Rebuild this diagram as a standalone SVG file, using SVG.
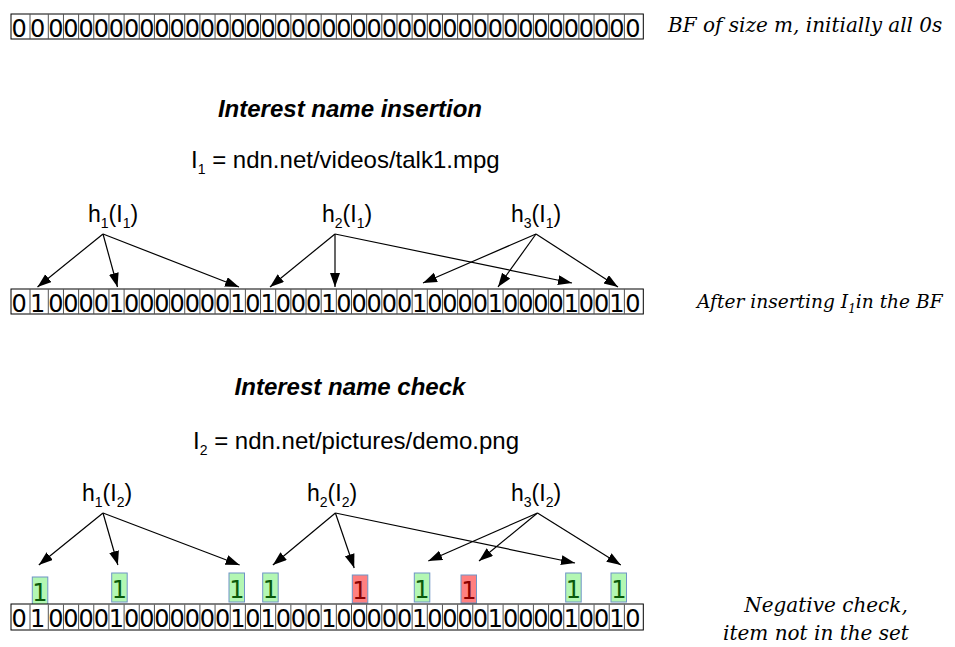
<svg xmlns="http://www.w3.org/2000/svg" width="955" height="647" viewBox="0 0 955 647">
<style>
.cell{fill:#fff;stroke:#000;stroke-width:1}
.sep{stroke:#555;stroke-width:1;fill:none}
.bit{font-family:"DejaVu Sans",sans-serif;font-size:24px;text-anchor:middle;fill:#000}
.title{font-family:"Liberation Sans",sans-serif;font-weight:bold;font-style:italic;font-size:24px;text-anchor:middle}
.name{font-family:"Liberation Sans",sans-serif;font-size:24px}
.hl{font-family:"Liberation Sans",sans-serif;font-size:23px}
.note{font-family:"DejaVu Serif",serif;font-style:italic;font-size:20px}
.note2{font-family:"DejaVu Serif",serif;font-style:italic;font-size:18.6px}
.arrow{stroke:#000;stroke-width:1.2;fill:none;marker-end:url(#ah)}
.g{fill:#b3f7b3;stroke:#6f94c6;stroke-width:1}
.r{fill:#ff8080;stroke:#6f94c6;stroke-width:1}
.gt{font-family:"DejaVu Sans",sans-serif;font-size:24px;text-anchor:middle;fill:#0a5a0a}
.rt{font-family:"DejaVu Sans",sans-serif;font-size:24px;text-anchor:middle;fill:#8a0000}
</style>
<defs>
<marker id="ah" markerUnits="userSpaceOnUse" markerWidth="15" markerHeight="11" refX="14" refY="5" orient="auto">
<path d="M0,0 L14,5 L0,10 z" fill="#000"/>
</marker>
<path id="seps" d="M30,0v25M48.3,0v25M63.46,0v25M78.62,0v25M93.78,0v25M108.94,0v25M124.1,0v25M139.26,0v25M154.42,0v25M169.58,0v25M184.74,0v25M199.9,0v25M215.06,0v25M230.22,0v25M245.38,0v25M260.54,0v25M275.7,0v25M290.86,0v25M306.02,0v25M321.18,0v25M336.34,0v25M351.5,0v25M366.66,0v25M381.82,0v25M396.98,0v25M412.14,0v25M427.3,0v25M442.46,0v25M457.62,0v25M472.78,0v25M487.94,0v25M503.1,0v25M518.26,0v25M533.42,0v25M548.58,0v25M563.74,0v25M578.9,0v25M594.06,0v25M609.22,0v25M624.38,0v25"/>
</defs>

<g id="bf-initial">
<rect class="cell" x="11" y="14" width="632.3" height="25"/>
<use href="#seps" class="sep" y="14"/>
<text class="bit" y="36.5" x="19.2 37.6 55.9 71.0 86.2 101.4 116.5 131.7 146.8 162.0 177.2 192.3 207.5 222.6 237.8 253.0 268.1 283.3 298.4 313.6 328.8 343.9 359.1 374.2 389.4 404.6 419.7 434.9 450.0 465.2 480.4 495.5 510.7 525.8 541.0 556.2 571.3 586.5 601.6 616.8 633.0">00000000000000000000000000000000000000000</text>
<text class="note" x="668" y="32">BF of size m, initially all 0s</text>
</g>

<g id="title-insert">
<text class="title" x="350" y="116.5">Interest name insertion</text>
<text class="name" x="191" y="168">I<tspan font-size="14" dy="6">1</tspan><tspan dy="-6"> = ndn.net/videos/talk1.mpg</tspan></text>
</g>

<g id="h1-i1"><text class="hl" x="88" y="222">h<tspan font-size="14" dy="6">1</tspan><tspan dy="-6">(I</tspan><tspan font-size="14" dy="6">1</tspan><tspan dy="-6">)</tspan></text></g>
<g id="h2-i1"><text class="hl" x="322" y="222">h<tspan font-size="14" dy="6">2</tspan><tspan dy="-6">(I</tspan><tspan font-size="14" dy="6">1</tspan><tspan dy="-6">)</tspan></text></g>
<g id="h3-i1"><text class="hl" x="511" y="222">h<tspan font-size="14" dy="6">3</tspan><tspan dy="-6">(I</tspan><tspan font-size="14" dy="6">1</tspan><tspan dy="-6">)</tspan></text></g>

<g id="bf-inserted">
<rect class="cell" x="11" y="289" width="632.3" height="25"/>
<use href="#seps" class="sep" y="289"/>
<text class="bit" y="311.5" x="19.2 37.6 55.9 71.0 86.2 101.4 116.5 131.7 146.8 162.0 177.2 192.3 207.5 222.6 237.8 253.0 268.1 283.3 298.4 313.6 328.8 343.9 359.1 374.2 389.4 404.6 419.7 434.9 450.0 465.2 480.4 495.5 510.7 525.8 541.0 556.2 571.3 586.5 601.6 616.8 633.0">01000010000000101000100000100001000010010</text>
<text class="note2" x="697" y="308">After inserting I<tspan font-size="12" dy="5">1</tspan><tspan dy="-5">in the BF</tspan></text>
</g>

<g id="title-check">
<text class="title" x="350" y="395">Interest name check</text>
<text class="name" x="193" y="449">I<tspan font-size="14" dy="6">2</tspan><tspan dy="-6"> = ndn.net/pictures/demo.png</tspan></text>
</g>

<g id="h1-i2"><text class="hl" x="82" y="501">h<tspan font-size="14" dy="6">1</tspan><tspan dy="-6">(I</tspan><tspan font-size="14" dy="6">2</tspan><tspan dy="-6">)</tspan></text></g>
<g id="h2-i2"><text class="hl" x="307" y="501">h<tspan font-size="14" dy="6">2</tspan><tspan dy="-6">(I</tspan><tspan font-size="14" dy="6">2</tspan><tspan dy="-6">)</tspan></text></g>
<g id="h3-i2"><text class="hl" x="511" y="501">h<tspan font-size="14" dy="6">3</tspan><tspan dy="-6">(I</tspan><tspan font-size="14" dy="6">2</tspan><tspan dy="-6">)</tspan></text></g>

<g id="checks">
<rect class="g" x="32.3" y="577" width="15.5" height="29"/><text class="gt" x="40" y="601">1</text>
<rect class="g" x="111.7" y="573" width="15.5" height="29"/><text class="gt" x="119.5" y="598">1</text>
<rect class="g" x="229" y="573" width="15.5" height="29"/><text class="gt" x="236.8" y="598">1</text>
<rect class="g" x="262.7" y="573" width="15.5" height="29"/><text class="gt" x="270.5" y="598">1</text>
<rect class="r" x="352.3" y="575" width="15.5" height="28"/><text class="rt" x="360" y="599">1</text>
<rect class="g" x="414.3" y="573" width="15.5" height="29"/><text class="gt" x="422" y="598">1</text>
<rect class="r" x="461" y="575" width="15.5" height="28"/><text class="rt" x="468.8" y="599">1</text>
<rect class="g" x="565.7" y="573" width="15.5" height="29"/><text class="gt" x="573.5" y="598">1</text>
<rect class="g" x="611" y="573" width="15.5" height="29"/><text class="gt" x="618.8" y="598">1</text>
</g>

<g id="bf-check">
<rect class="cell" x="11" y="604" width="632.3" height="26"/>
<use href="#seps" class="sep" y="604.5"/>
<text class="bit" y="626.5" x="19.2 37.6 55.9 71.0 86.2 101.4 116.5 131.7 146.8 162.0 177.2 192.3 207.5 222.6 237.8 253.0 268.1 283.3 298.4 313.6 328.8 343.9 359.1 374.2 389.4 404.6 419.7 434.9 450.0 465.2 480.4 495.5 510.7 525.8 541.0 556.2 571.3 586.5 601.6 616.8 633.0">01000010000000101000100000100001000010010</text>
<text class="note" x="826" y="612" text-anchor="middle">Negative check,</text>
<text class="note" x="816" y="640" text-anchor="middle">item not in the set</text>
</g>

<g id="connectors">
<line class="arrow" x1="103" y1="234" x2="37.5" y2="287"/>
<line class="arrow" x1="103" y1="234" x2="117.5" y2="287"/>
<line class="arrow" x1="103" y1="234" x2="239" y2="287"/>
<line class="arrow" x1="335" y1="234" x2="270" y2="287"/>
<line class="arrow" x1="335" y1="234" x2="335" y2="287"/>
<line class="arrow" x1="335" y1="234" x2="572" y2="283"/>
<line class="arrow" x1="536" y1="234" x2="423" y2="283"/>
<line class="arrow" x1="536" y1="234" x2="498" y2="287"/>
<line class="arrow" x1="536" y1="234" x2="618" y2="287"/>
<line class="arrow" x1="103" y1="513" x2="38.8" y2="565"/>
<line class="arrow" x1="103" y1="513" x2="117.9" y2="565"/>
<line class="arrow" x1="103" y1="513" x2="239.6" y2="565"/>
<line class="arrow" x1="335.4" y1="513" x2="272.9" y2="565"/>
<line class="arrow" x1="335.4" y1="513" x2="354.2" y2="568"/>
<line class="arrow" x1="335.4" y1="513" x2="575" y2="563"/>
<line class="arrow" x1="537.5" y1="513" x2="428.3" y2="561"/>
<line class="arrow" x1="537.5" y1="513" x2="479" y2="561"/>
<line class="arrow" x1="537.5" y1="513" x2="620.8" y2="565"/>
</g>
</svg>
